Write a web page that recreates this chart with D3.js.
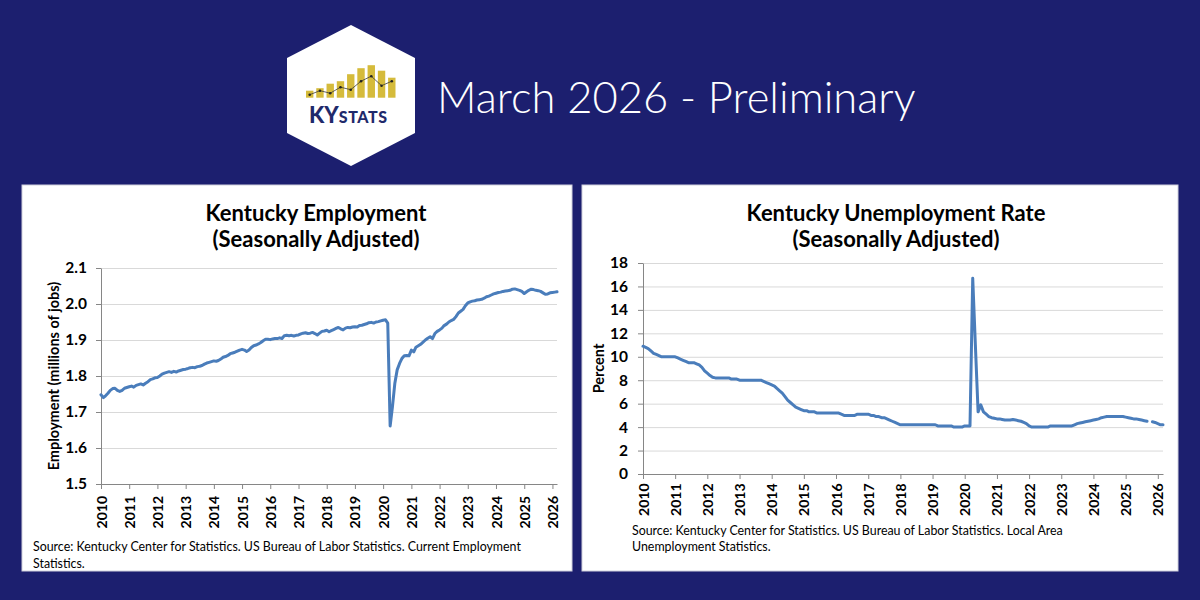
<!DOCTYPE html>
<html><head><meta charset="utf-8">
<script src="https://cdn.jsdelivr.net/npm/d3@7"></script>
<style>
html,body{margin:0;padding:0;background:#1c1f6f;}
svg{display:block;}
text{font-family:Lato,"Open Sans",sans-serif;}
</style></head><body>
<svg id="c" width="1200" height="600"></svg>
<script>
// ---------------- DATA ----------------
const yearTicks = [2010,2011,2012,2013,2014,2015,2016,2017,2018,2019,2020,2021,2022,2023,2024,2025,2026];
const empTicks = [1.5,1.6,1.7,1.8,1.9,2.0,2.1];
const uneTicks = [0,2,4,6,8,10,12,14,16,18];

// Kentucky nonfarm employment, millions of jobs, monthly Jan 2010 - Mar 2026
const employment = [
  1.748,1.740,1.745,1.752,1.760,1.765,1.766,1.760,1.757,1.760,1.766,1.768,
  1.770,1.772,1.769,1.774,1.776,1.778,1.775,1.780,1.784,1.790,1.792,1.795,
  1.796,1.800,1.805,1.808,1.810,1.812,1.810,1.813,1.811,1.814,1.816,1.818,
  1.819,1.821,1.823,1.824,1.823,1.826,1.827,1.829,1.833,1.836,1.838,1.840,
  1.842,1.841,1.843,1.847,1.852,1.854,1.857,1.862,1.864,1.866,1.869,1.872,
  1.874,1.872,1.868,1.872,1.879,1.884,1.886,1.889,1.893,1.898,1.902,1.902,
  1.901,1.903,1.904,1.904,1.906,1.904,1.912,1.913,1.912,1.913,1.911,1.913,
  1.914,1.917,1.919,1.920,1.918,1.919,1.921,1.918,1.914,1.919,1.924,1.925,
  1.927,1.923,1.926,1.929,1.932,1.935,1.931,1.928,1.933,1.935,1.934,1.936,
  1.937,1.936,1.940,1.941,1.943,1.945,1.948,1.949,1.947,1.950,1.951,1.953,
  1.955,1.956,1.947,1.661,1.715,1.780,1.817,1.835,1.849,1.856,1.857,1.856,
  1.872,1.867,1.880,1.884,1.888,1.894,1.900,1.905,1.909,1.904,1.918,1.924,
  1.928,1.933,1.940,1.944,1.950,1.954,1.957,1.965,1.975,1.980,1.985,1.995,
  2.003,2.006,2.008,2.009,2.011,2.012,2.013,2.016,2.020,2.022,2.025,2.028,
  2.030,2.032,2.033,2.035,2.036,2.037,2.038,2.041,2.042,2.040,2.038,2.035,
  2.029,2.034,2.038,2.041,2.040,2.038,2.037,2.035,2.031,2.027,2.028,2.031,
  2.032,2.033,2.034
];

// Kentucky unemployment rate, percent, monthly Jan 2010 - Mar 2026 (Oct 2025 not available)
const unemployment = [
  10.9,10.8,10.7,10.5,10.3,10.2,10.1,10.0,10.0,10.0,10.0,10.0,
  10.0,9.9,9.8,9.7,9.6,9.5,9.5,9.5,9.4,9.3,9.1,8.8,
  8.6,8.4,8.25,8.2,8.2,8.2,8.2,8.2,8.2,8.1,8.1,8.1,
  8.0,8.0,8.0,8.0,8.0,8.0,8.0,8.0,8.0,7.9,7.8,7.7,
  7.6,7.5,7.3,7.1,6.9,6.6,6.3,6.1,5.9,5.7,5.6,5.5,
  5.4,5.4,5.3,5.3,5.3,5.2,5.2,5.2,5.2,5.2,5.2,5.2,
  5.2,5.2,5.1,5.0,5.0,5.0,5.0,5.0,5.1,5.1,5.1,5.1,
  5.1,5.0,5.0,4.9,4.9,4.8,4.8,4.7,4.6,4.5,4.4,4.3,
  4.2,4.2,4.2,4.2,4.2,4.2,4.2,4.2,4.2,4.2,4.2,4.2,
  4.2,4.2,4.1,4.1,4.1,4.1,4.1,4.1,4.0,4.0,4.0,4.0,
  4.1,4.1,4.1,16.7,11.0,5.3,5.9,5.3,5.1,4.9,4.8,4.75,
  4.7,4.7,4.65,4.6,4.6,4.6,4.65,4.6,4.55,4.5,4.4,4.3,
  4.1,4.0,4.0,4.0,4.0,4.0,4.0,4.0,4.1,4.1,4.1,4.1,
  4.1,4.1,4.1,4.1,4.1,4.2,4.3,4.35,4.4,4.45,4.5,4.55,
  4.6,4.65,4.7,4.8,4.85,4.9,4.9,4.9,4.9,4.9,4.9,4.9,
  4.85,4.8,4.75,4.7,4.7,4.65,4.6,4.55,4.5,null,4.45,4.4,
  4.3,4.2,4.2
];

// KYSTATS logo glyph values
const logoBars = [7, 9.5, 14, 16.5, 23.5, 29.5, 32.5, 27, 20];
const logoLine = [3, 7, 4.5, 10.5, 8, 16.5, 21.5, 12, 16.5];

const headerTitle = "March 2026 - Preliminary";

// ---------------- DRAW ----------------
const svg = d3.select("#c");
const NAVY = "#1c1f6f";
const LINE = "#4a7dbb";
svg.append("rect").attr("width",1200).attr("height",600).attr("fill",NAVY);

// Logo
const logo = svg.append("g");
const hex = [[351,25],[415,58],[415,133],[351,166],[287,133],[287,58]];
logo.append("polygon").attr("points", hex.map(p=>p.join(",")).join(" ")).attr("fill","#fff");
const lx = d3.scaleBand().domain(d3.range(logoBars.length)).range([306,395.5]).paddingInner(0.28);
const ly = d3.scaleLinear().domain([0,35]).range([97.7,62.7]);
logo.selectAll("rect.lb").data(logoBars).join("rect")
  .attr("x",(d,i)=>lx(i)).attr("width",lx.bandwidth())
  .attr("y",d=>ly(d)).attr("height",d=>ly(0)-ly(d)).attr("fill","#d5bb3b");
const lline = d3.line().x((d,i)=>lx(i)+lx.bandwidth()/2).y(d=>ly(d));
logo.append("path").attr("d",lline(logoLine)).attr("fill","none").attr("stroke","#3a3a3a").attr("stroke-width",0.8);
logo.selectAll("circle").data(logoLine).join("circle")
  .attr("cx",(d,i)=>lx(i)+lx.bandwidth()/2).attr("cy",d=>ly(d)).attr("r",1.3).attr("fill","#222");
const lt = logo.append("text").attr("x",309).attr("y",122.7).attr("fill","#1f2a6b").attr("font-weight",900);
lt.append("tspan").attr("font-size",22).text("KY");
lt.append("tspan").attr("font-size",16).attr("letter-spacing",0.6).text("STATS");

svg.append("text").attr("x",437).attr("y",112.5).attr("fill","#fff")
  .attr("font-family","Roboto, Lato, sans-serif").attr("font-weight",300).attr("font-size",43.5)
  .text(headerTitle);

function drawChart(cfg){
  const g = svg.append("g");
  g.append("rect").attr("x",cfg.panel[0]).attr("y",cfg.panel[1]).attr("width",cfg.panel[2]).attr("height",cfg.panel[3])
    .attr("fill","#fff").attr("stroke","#cfd0dc").attr("stroke-width",1);
  const dates = cfg.values.map((v,i)=>new Date(2010,i,1));
  const x = d3.scaleTime().domain([new Date(2010,0,1), new Date(2026,2,1)]).range([cfg.plot[0],cfg.plot[1]]);
  const y = d3.scaleLinear().domain(cfg.ydom).range([cfg.plot[3],cfg.plot[2]]);
  const W = cfg.plot[1]-cfg.plot[0];
  // gridlines
  g.append("g").attr("transform",`translate(${cfg.plot[0]},0)`)
    .call(d3.axisLeft(y).tickValues(cfg.yticks).tickSize(-W).tickFormat(""))
    .call(s=>s.select(".domain").remove())
    .call(s=>s.selectAll("line").attr("stroke","#d9d9d9").attr("stroke-width",1));
  // y axis
  g.append("g").attr("transform",`translate(${cfg.plot[0]},0)`)
    .call(d3.axisLeft(y).tickValues(cfg.yticks).tickSize(5).tickSizeOuter(0).tickPadding(cfg.ypad).tickFormat(cfg.yfmt))
    .call(s=>s.select(".domain").attr("stroke","#868686"))
    .call(s=>s.selectAll("line").attr("stroke","#868686"))
    .call(s=>s.selectAll("text").attr("font-family","Lato, sans-serif").attr("font-weight",700).attr("font-size",15.5).attr("fill","#000"));
  // x axis
  const yearDates = yearTicks.map(yr=>new Date(yr,0,1));
  g.append("g").attr("transform",`translate(0,${cfg.plot[3]})`)
    .call(d3.axisBottom(x).tickValues(yearDates).tickSize(5).tickSizeOuter(0).tickFormat(d3.timeFormat("%Y")))
    .call(s=>s.select(".domain").attr("stroke","#868686"))
    .call(s=>s.selectAll("line").attr("stroke","#868686"))
    .call(s=>s.selectAll("text").attr("font-family","Lato, sans-serif").attr("font-weight",700).attr("font-size",14).attr("fill","#000")
      .attr("transform","rotate(-90)").attr("text-anchor","end").attr("x",-cfg.xgap).attr("y",0).attr("dy","0.36em"));
  // line
  const data = cfg.values.map((v,i)=>({date:dates[i], v}));
  const line = d3.line().defined(d=>d.v!=null).x(d=>x(d.date)).y(d=>y(d.v));
  g.append("path").attr("d",line(data)).attr("fill","none").attr("stroke",LINE).attr("stroke-width",3)
    .attr("stroke-linejoin","round").attr("stroke-linecap","round");
  // titles
  cfg.title.forEach((t,i)=>g.append("text").attr("x",cfg.titleX).attr("y",cfg.titleY[i]).attr("text-anchor","middle")
    .attr("font-weight",700).attr("font-size",22).attr("fill","#000").text(t));
  // y label
  g.append("text").attr("transform",`translate(${cfg.ylabX},${(cfg.plot[2]+cfg.plot[3])/2}) rotate(-90)`)
    .attr("text-anchor","middle").attr("dy","0.35em").attr("font-weight",700).attr("font-size",14.5).attr("fill","#000").text(cfg.ylabel);
  // source
  cfg.source.forEach((t,i)=>g.append("text").attr("x",cfg.srcX).attr("y",cfg.srcY[i])
    .attr("font-size",12.4).attr("fill","#000").text(t));
}

drawChart({
  panel:[22,185,550,386], plot:[101,557,268,484],
  values: employment, ydom:[1.5,2.1], yticks: empTicks, yfmt: d3.format(".1f"), ypad:9, xgap:12,
  title:["Kentucky Employment","(Seasonally Adjusted)"], titleX:316, titleY:[221,247],
  ylabel:"Employment (millions of jobs)", ylabX:54,
  source:["Source: Kentucky Center for Statistics. US Bureau of Labor Statistics. Current Employment","Statistics."],
  srcX:33, srcY:[551,568]
});
drawChart({
  panel:[582,185,596,386], plot:[643,1163,263,474],
  values: unemployment, ydom:[0,18], yticks: uneTicks, yfmt: d3.format("d"), ypad:10, xgap:9.5,
  title:["Kentucky Unemployment Rate","(Seasonally Adjusted)"], titleX:896, titleY:[221,247],
  ylabel:"Percent", ylabX:599,
  source:["Source: Kentucky Center for Statistics. US Bureau of Labor Statistics. Local Area","Unemployment Statistics."],
  srcX:632, srcY:[535,551]
});
</script></body></html>
